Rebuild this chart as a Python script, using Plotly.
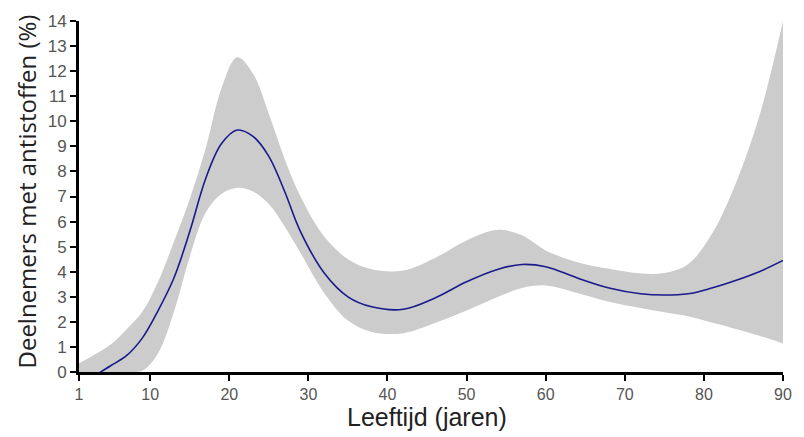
import plotly.graph_objects as go

ages = [1, 3, 5, 7, 9, 11, 13, 15, 17, 19, 21, 23, 25, 27, 29, 32, 35, 38, 42, 46,
        50, 54, 57, 60, 64, 68, 72, 75, 78, 81, 84, 87, 90]
center = [-0.6, -0.15, 0.25, 0.65, 1.35, 2.45, 3.75, 5.6, 7.7, 9.1, 9.65, 9.4, 8.6, 7.2,
          5.6, 3.95, 3.0, 2.6, 2.5, 2.95, 3.6, 4.1, 4.29, 4.2, 3.75, 3.35, 3.12, 3.07,
          3.12, 3.35, 3.65, 4.0, 4.45]
upper = [0.35, 0.7, 1.1, 1.7, 2.4, 3.6, 5.2, 6.9, 8.9, 11.3, 12.55, 11.9, 10.3, 8.5,
         7.0, 5.4, 4.5, 4.1, 4.05, 4.55, 5.25, 5.67, 5.45, 4.85, 4.38, 4.12, 3.93, 3.95,
         4.3, 5.5, 7.5, 10.2, 14.0]
lower = [0.0, 0.0, 0.0, 0.0, 0.05, 0.75, 2.4, 4.6, 6.35, 7.1, 7.35, 7.2, 6.7, 5.8,
         4.75, 3.15, 2.05, 1.6, 1.55, 1.95, 2.45, 3.0, 3.35, 3.45, 3.15, 2.8, 2.55,
         2.38, 2.22, 1.97, 1.72, 1.45, 1.14]

x_ticks = [1, 10, 20, 30, 40, 50, 60, 70, 80, 90]
y_ticks = list(range(0, 15))

fig = go.Figure()
fig.add_trace(go.Scatter(x=ages, y=lower, mode="lines",
                         line=dict(width=0, shape="spline", color="#cccccc"),
                         showlegend=False, hoverinfo="skip"))
fig.add_trace(go.Scatter(x=ages, y=upper, mode="lines", fill="tonexty",
                         fillcolor="#cccccc",
                         line=dict(width=0, shape="spline", color="#cccccc"),
                         showlegend=False, hoverinfo="skip"))
fig.add_trace(go.Scatter(x=ages, y=center, mode="lines",
                         line=dict(width=1.6, shape="spline", color="#1a1a8c"),
                         showlegend=False))

fig.update_layout(
    width=804, height=437,
    margin=dict(l=79, r=15, t=17, b=65),
    paper_bgcolor="white", plot_bgcolor="white",
    font=dict(family="Liberation Sans, Arial, sans-serif"),
    xaxis=dict(range=[1, 90], tickvals=x_ticks, ticktext=[str(v) for v in x_ticks],
               showgrid=False, zeroline=False, showline=True, linecolor="black",
               linewidth=3, ticks="outside", ticklen=6, tickwidth=2,
               tickcolor="black", tickfont=dict(size=16, color="#555555")),
    yaxis=dict(range=[0, 14], tickvals=y_ticks, showgrid=False, zeroline=False,
               showline=True, linecolor="black", linewidth=3, ticks="outside",
               ticklen=6, tickwidth=2, tickcolor="black",
               tickfont=dict(size=17, color="#555555")),
    annotations=[
        dict(text="Leeftijd (jaren)", xref="paper", yref="paper", x=0.5, y=0,
             xanchor="center", yanchor="middle", yshift=-45, xshift=-4,
             showarrow=False, font=dict(size=25, color="#222222")),
        dict(text="Deelnemers met antistoffen (%)", xref="paper", yref="paper",
             x=0, y=0.5, xanchor="center", yanchor="middle", xshift=-53, yshift=5,
             textangle=-90, showarrow=False,
             font=dict(size=24, color="#222222", family="Open Sans, sans-serif")),
    ],
)

fig.write_html("out.html", config={"displayModeBar": False},
               post_script="document.body.style.margin='0px';")
